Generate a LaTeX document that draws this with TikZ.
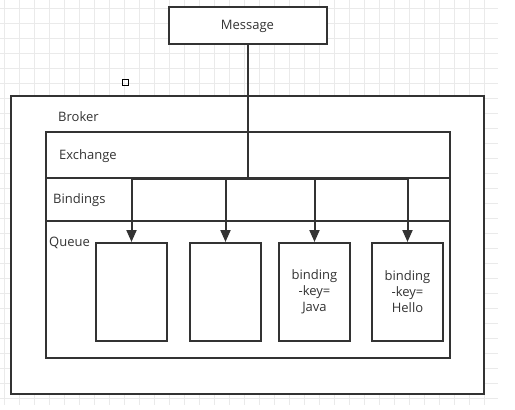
\documentclass[tikz,border=0pt]{standalone}
\usepackage{fontspec}
\setmainfont{Open Sans}
\usetikzlibrary{arrows.meta,positioning}
\definecolor{ink}{HTML}{333333}
\definecolor{gridc}{HTML}{EAEAEA}
\tikzset{
  box/.style  = {draw=ink, line width=2pt, inner sep=0pt, fill=white},
  lbl/.style  = {font=\fontsize{13}{16}\selectfont, text=ink, inner sep=0pt},
  qbox/.style = {box, minimum width=71pt, minimum height=98pt,
                 align=center, font=\fontsize{13}{16}\selectfont, text=ink},
  row/.style  = {draw=ink, line width=2pt, minimum width=404pt, inner sep=0pt},
  wire/.style = {draw=ink, line width=2pt},
  arr/.style  = {wire, -{Triangle[length=12pt,width=10pt]}},
  gridln/.style = {gridc, line width=0.7pt}
}
\begin{document}
\begin{tikzpicture}[x=1pt,y=-1pt]
  \useasboundingbox (0,0) rectangle (515,410);
  % ---- background grid ----
  \foreach \gx in {4,19,...,484} \draw[gridln] (\gx,0) -- (\gx,405);
  \foreach \gy in {8,23,...,398} \draw[gridln] (0,\gy) -- (498,\gy);
  % ---- message ----
  \node[box, minimum width=158pt, minimum height=37pt] (msg) at (247.5,25) {};
  \node[lbl] (msglbl) at (247.5,26.5) {Message};
  \node[draw=black, line width=0.9pt, minimum size=6pt, inner sep=0pt] (sq) at (125,82) {};
  % ---- broker ----
  \node[box, minimum width=473pt, minimum height=298pt] (broker) at (247.5,245) {};
  \node[lbl, anchor=west] (brokerlbl) at (58,116.5) {Broker};
  \node[row, minimum height=46pt] (exch) at (248,155) {};
  \node[row, minimum height=43pt] (bind) at (248,199.5) {};
  \node[row, minimum height=137pt] (queue) at (248,289.5) {};
  \node[lbl, anchor=west] (exchlbl) at (59,156.5) {Exchange};
  \node[lbl, anchor=west] (bindlbl) at (53,200.5) {Bindings};
  \node[lbl, anchor=west] (queuelbl) at (49,242.5) {Queue};
  % ---- queues ----
  \node[qbox] (q1) at (131.5,292) {};
  \node[qbox] (q2) at (225.5,292) {};
  \node[qbox] (q3) at (314.5,292) {binding\\-key=\\Java};
  \node[qbox] (q4) at (407.5,292) {binding\\-key=\\Hello};
  % ---- routing ----
  \coordinate (hub) at (247.5,179);
  \draw[wire] (msg) -- (hub);
  \draw[wire] (q1.north |- hub) -- (q4.north |- hub);
  \foreach \q in {q1,q2,q3,q4}
    \draw[arr] (\q.north |- hub) -- (\q.north);
\end{tikzpicture}
\end{document}
